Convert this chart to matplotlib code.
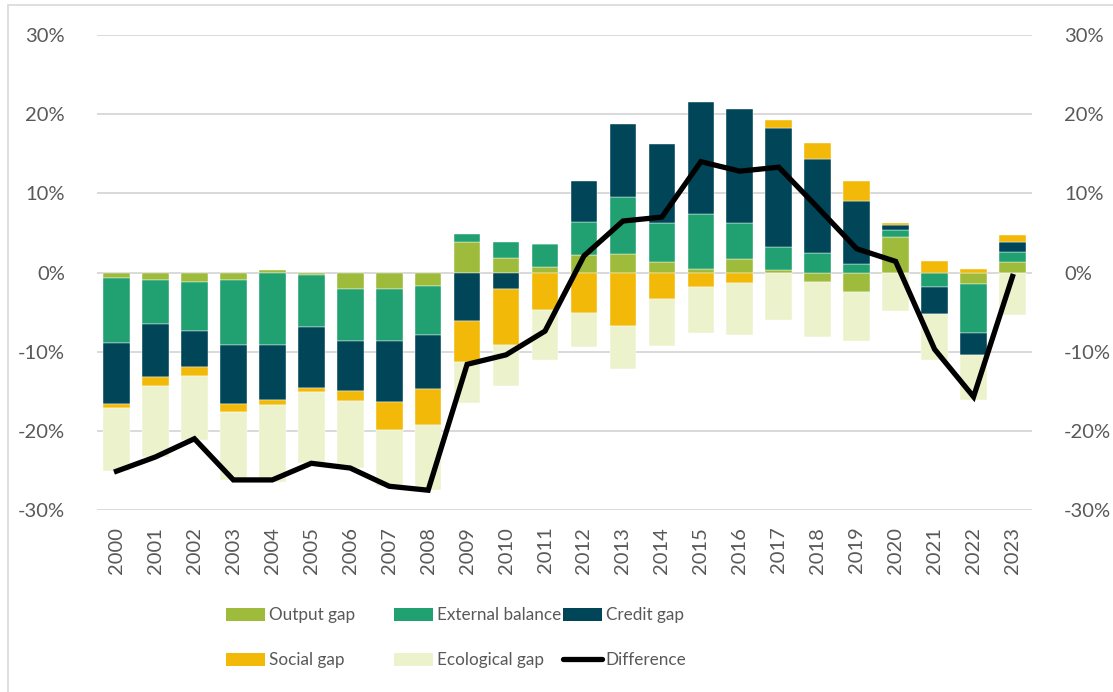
import matplotlib
matplotlib.use("Agg")
import matplotlib.pyplot as plt
import matplotlib.ticker as ticker
from matplotlib.patches import Patch, Rectangle
from matplotlib.lines import Line2D
import numpy as np

# data (percent)
years = [str(y) for y in range(2000, 2024)]

output_gap = [-0.65, -0.95, -1.24, -0.95, 0.28, -0.3, -2.1, -2.1, -1.66, 3.81,
              1.83, 0.7, 2.2, 2.35, 1.33, 0.44, 1.7, 0.3, -1.16, -2.46,
              4.44, 0.0, -1.39, 1.36]
external_balance = [-8.25, -5.5, -6.11, -8.2, -9.1, -6.55, -6.5, -6.55, -6.2, 1.05,
                    2.02, 2.9, 4.2, 7.15, 4.92, 6.96, 4.5, 2.9, 2.42, 1.03,
                    0.93, -1.77, -6.21, 1.18]
credit_gap = [-7.7, -6.75, -4.62, -7.45, -7.0, -7.75, -6.4, -7.75, -6.85, -6.08,
              -2.08, 0.0, 5.1, 9.2, 9.95, 14.2, 14.4, 15.1, 11.88, 7.97,
              0.63, -3.43, -2.86, 1.36]
social_gap = [-0.5, -1.1, -1.1, -1.0, -0.6, -0.5, -1.2, -3.5, -4.6, -5.18,
              -7.07, -4.77, -5.1, -6.75, -3.3, -1.8, -1.3, 0.95, 2.1, 2.55,
              0.25, 1.41, 0.44, 0.84]
ecological_gap = [-8.0, -9.0, -8.08, -8.6, -9.7, -9.0, -8.5, -7.1, -8.2, -5.24,
                  -5.15, -6.28, -4.35, -5.4, -5.93, -5.84, -6.55, -6.0, -7.04, -6.14,
                  -4.86, -5.85, -5.64, -5.33]
difference = [-25.1, -23.3, -21.0, -26.2, -26.2, -24.1, -24.7, -27.0, -27.5, -11.6,
              -10.4, -7.4, 2.1, 6.5, 7.0, 14.0, 12.8, 13.3, 8.2, 3.0,
              1.4, -9.7, -15.7, -0.5]

series = [("Output gap", output_gap, "#9EBB3C"),
          ("External balance", external_balance, "#21A072"),
          ("Credit gap", credit_gap, "#004558"),
          ("Social gap", social_gap, "#F2B908"),
          ("Ecological gap", ecological_gap, "#ECF3CC")]

plt.rcParams['font.family'] = ['Lato', 'DejaVu Sans']
txt = "#595959"

fig = plt.figure(figsize=(11.13, 6.92), dpi=100)
ax = fig.add_axes([97/1113, 182/692, 935/1113, 475/692])

x = np.arange(len(years))
pos_bottom = np.zeros(len(years))
neg_bottom = np.zeros(len(years))
handles = {}
for name, vals, col in series:
    v = np.array(vals)
    bottom = np.where(v >= 0, pos_bottom, neg_bottom)
    ax.bar(x, v, 0.685, bottom=bottom, color=col, zorder=2,
           edgecolor="white", linewidth=0.3)
    pos_bottom += np.where(v > 0, v, 0)
    neg_bottom += np.where(v < 0, v, 0)
    handles[name] = Patch(facecolor=col, edgecolor="none")

ax.plot(x, difference, color="black", lw=3.8, zorder=3, solid_joinstyle="miter")
handles["Difference"] = Line2D([], [], color="black", lw=3.8, solid_capstyle="round")

# axes
ax.set_xlim(-0.5, len(years) - 0.5)
ax.set_ylim(-30, 30)
ax.yaxis.set_major_locator(ticker.MultipleLocator(10))
ax.yaxis.set_major_formatter(ticker.FuncFormatter(lambda v, p: f"{v:.0f}%"))
ax.set_xticks(x)
ax.set_xticklabels(years, rotation=90)
ax.tick_params(axis="y", length=0, pad=23, labelsize=14.5, labelcolor=txt,
               labelright=True)
ax.tick_params(axis="x", length=0, pad=12, labelsize=14.5, labelcolor=txt)
ax.grid(axis="y", color="#D9D9D9", lw=1.4, zorder=0)
ax.set_axisbelow(True)
for s in ax.spines.values():
    s.set_visible(False)

# legend, three columns placed by hand
cols = [(["Output gap", "Social gap"], 226),
        (["External balance", "Ecological gap"], 394),
        (["Credit gap", "Difference"], 563)]
for names, px in cols:
    fig.legend([handles[n] for n in names], names, loc="upper left",
               bbox_to_anchor=(px/1113, 1 - 607/692), frameon=False,
               fontsize=12.3, labelcolor=txt, handlelength=2.3, handleheight=0.8,
               handletextpad=0.2, labelspacing=1.72, borderpad=0, borderaxespad=0)

# outer frame
fig.patches.append(Rectangle((8/1113, -0.1), 1.2, 1 - 5/692 + 0.1,
                             transform=fig.transFigure, fill=False,
                             edgecolor="#D9D9D9", lw=1.2))

fig.savefig("out.png", dpi=100)
